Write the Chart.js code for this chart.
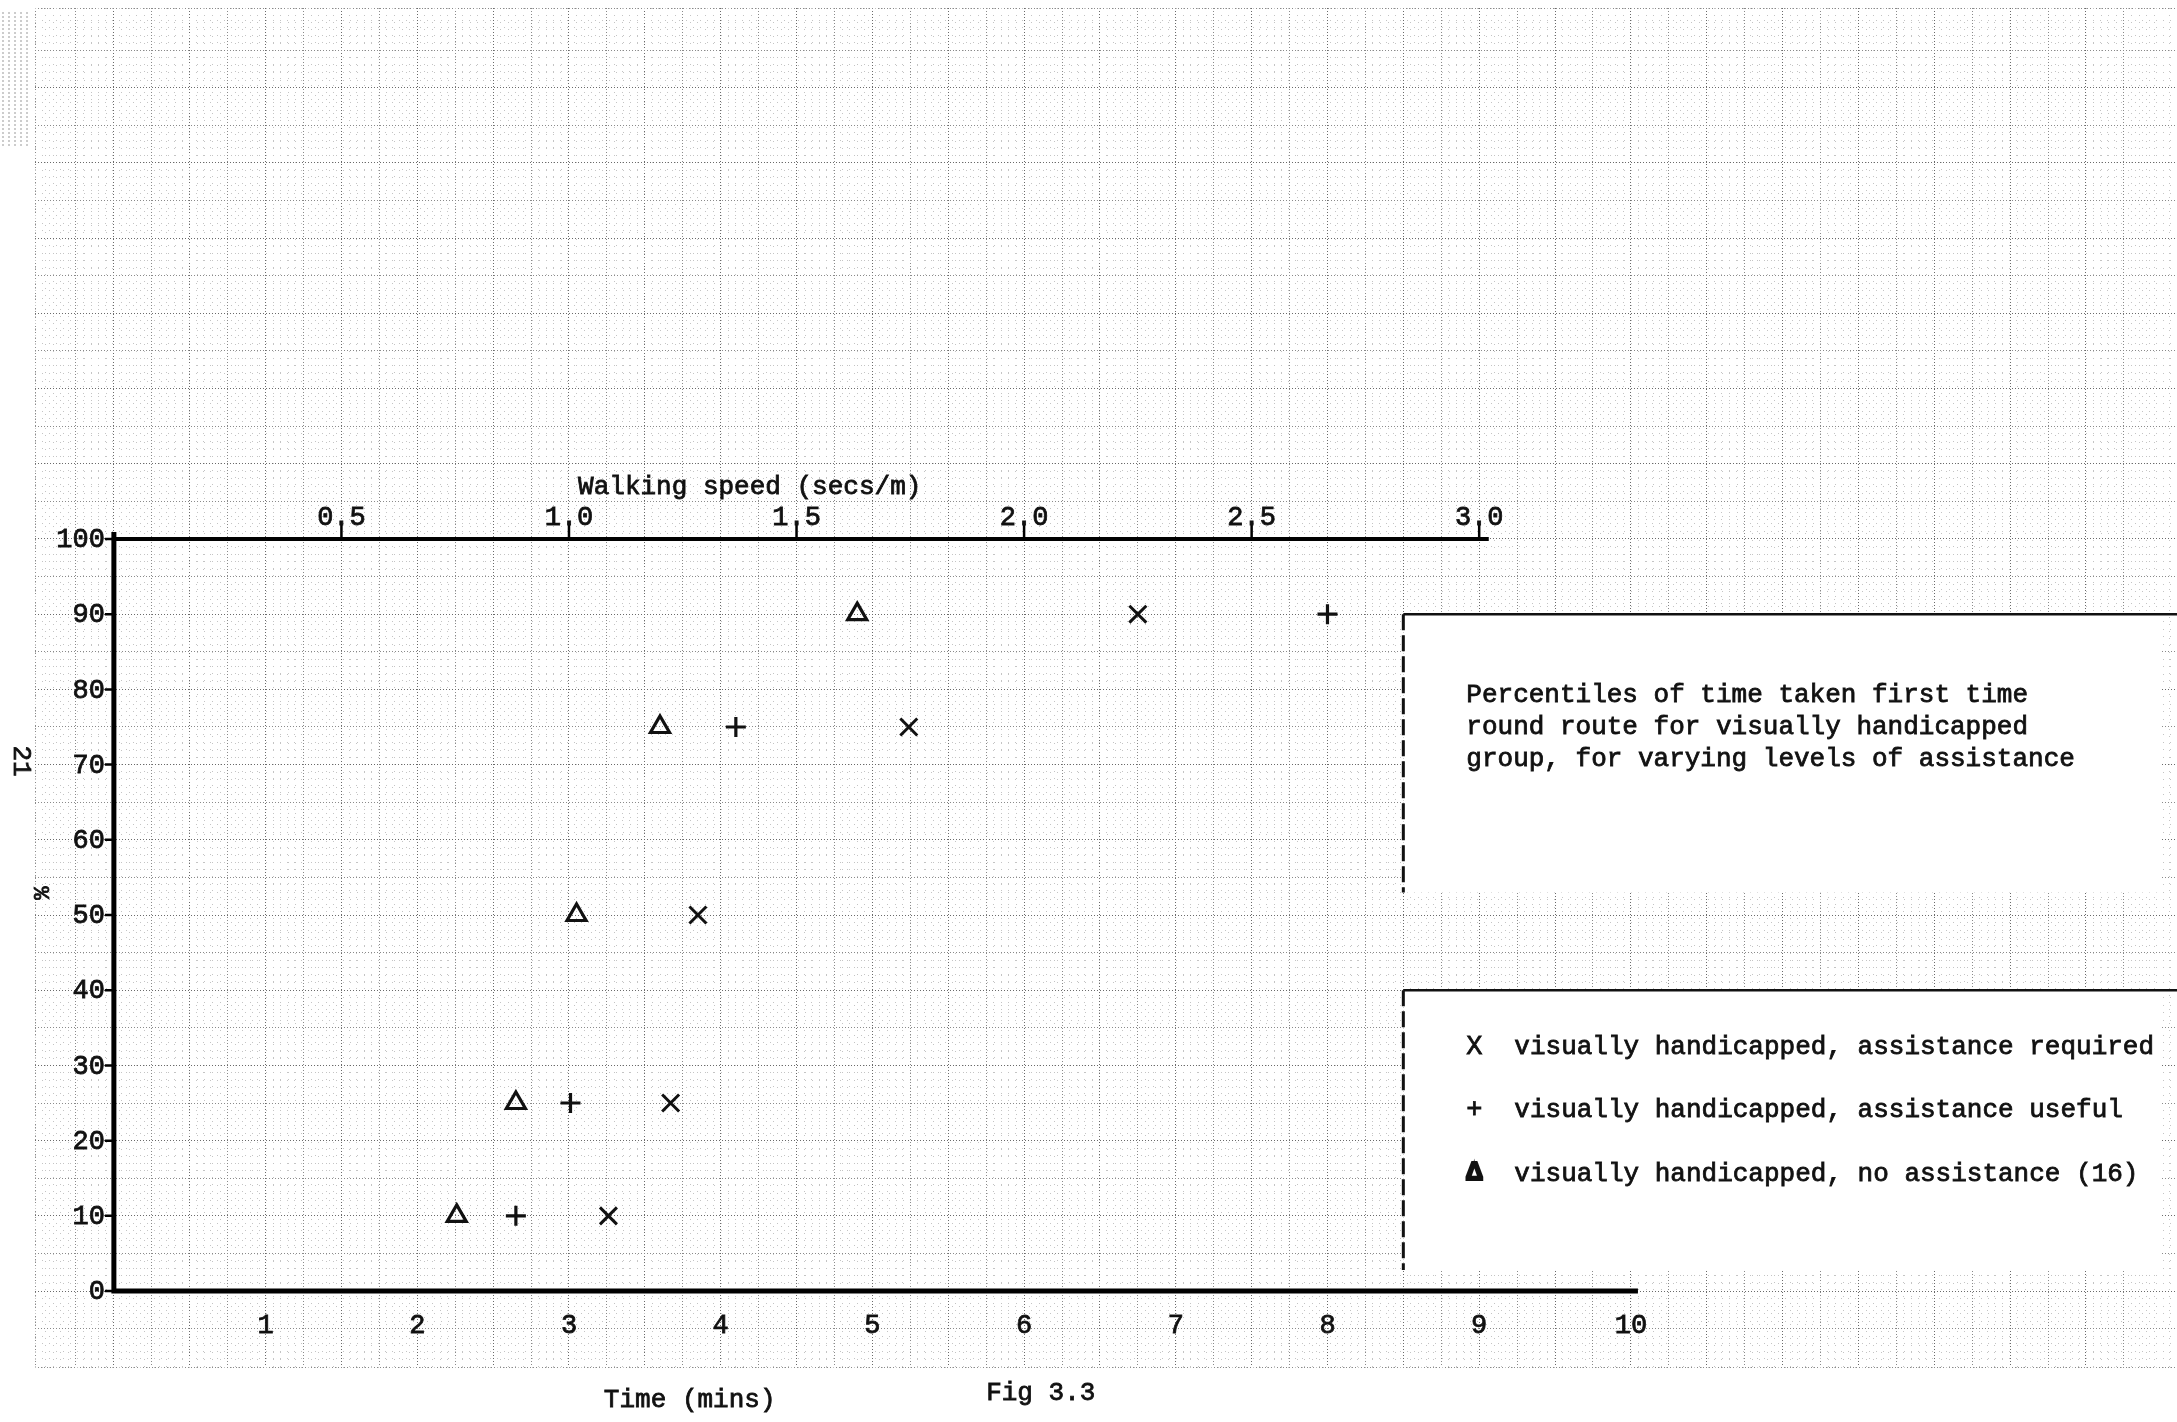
<!DOCTYPE html>
<html>
<head>
<meta charset="utf-8">
<title>Fig 3.3</title>
<script src="https://cdn.jsdelivr.net/npm/chart.js@4.4.1/dist/chart.umd.min.js"></script>
<style>
  html, body { margin: 0; padding: 0; background: #fff; }
  canvas { display: block; }
</style>
</head>
<body>
<canvas id="fig33" width="2177" height="1422"></canvas>
<script>
// percentile levels and time taken (mins)
var percentiles = [10, 25, 50, 75, 90];
var timeNoAssist = [2.26, 2.65, 3.05, 3.60, 4.90];
var timeUseful = [2.65, 3.01, null, 4.10, 8.00];
var timeRequired = [3.26, 3.67, 3.85, 5.24, 6.75];

// axis ticks
var timeTicks = [1, 2, 3, 4, 5, 6, 7, 8, 9, 10];
var percentTicks = [0, 10, 20, 30, 40, 50, 60, 70, 80, 90, 100];
var speedTicks = [0.5, 1.0, 1.5, 2.0, 2.5, 3.0];
var minsPerSpeed = 3; // 1 sec/m round the route = 3 mins

var caption = [
    'Percentiles of time taken first time',
    'round route for visually handicapped',
    'group, for varying levels of assistance'
];
var keySymbols = ['X', '+', '\u0394'];
var keyLabels = [
    'visually handicapped, assistance required',
    'visually handicapped, assistance useful',
    'visually handicapped, no assistance (16)'
];

// extent of the graph paper, in data units
var X_MIN = -0.52, X_MAX = 13.6;
var Y_MIN = -10.1, Y_MAX = 170.6;

var FONT = '"Liberation Mono", "DejaVu Sans Mono", monospace';

function toPoints(times) {
    let pts = [];
    for (let i = 0; i < percentiles.length; i++) {
        if (times[i] !== null) pts.push({x: times[i], y: percentiles[i]});
    }
    return pts;
}

function isMultiple(v, step) {
    const r = v / step;
    return Math.abs(r - Math.round(r)) < 1e-6;
}

// grid colour: darker every 0.5 min / 10 %, lighter every 0.25 min / 5 %
function majorColor(big) {
    return function(c) {
        return isMultiple(c.tick.value, big) ? '#6a6a6a' : '#8a8a8a';
    };
}
function fineColor(coarse) {
    return function(c) {
        return isMultiple(c.tick.value, coarse) ? 'rgba(0,0,0,0)' : '#c4c4c4';
    };
}

// typed text, slightly thickened like a typewriter impression
function typeText(ctx, s, x, y) {
    ctx.fillText(s, x, y);
    ctx.strokeText(s, x, y);
}

// white pasted boxes, axes, labels and caption text
const paperPlugin = {
    id: 'paperSheet',
    beforeDatasetsDraw(chart) {
        const ctx = chart.ctx;
        const sx = chart.scales.x, sy = chart.scales.y;
        const px = v => sx.getPixelForValue(v);
        const py = v => sy.getPixelForValue(v);
        const W = chart.width;
        ctx.save();

        // scan shading along the top-left edge
        ctx.strokeStyle = '#9a9a9a';
        ctx.lineWidth = 1;
        ctx.setLineDash([2, 2]);
        for (let i = 0; i < 5; i++) {
            ctx.beginPath();
            ctx.moveTo(3 + i * 6, 12);
            ctx.lineTo(3 + i * 6, 148);
            ctx.stroke();
        }

        // pasted label boxes
        const boxes = [[90, 53], [40, 2.8]];
        for (const b of boxes) {
            const x0 = px(8.5), x1 = px(13.5);
            const y0 = py(b[0]), y1 = py(b[1]);
            ctx.fillStyle = '#fff';
            ctx.fillRect(x0, y0, x1 - x0, y1 - y0);
            ctx.setLineDash([]);
            ctx.strokeStyle = '#111';
            ctx.lineWidth = 2.5;
            ctx.beginPath();
            ctx.moveTo(x0, y0);
            ctx.lineTo(W, y0);
            ctx.stroke();
            ctx.setLineDash([16, 5]);
            ctx.lineWidth = 3;
            ctx.beginPath();
            ctx.moveTo(x0, y0);
            ctx.lineTo(x0, y1);
            ctx.stroke();
        }
        ctx.setLineDash([]);

        // axes
        ctx.strokeStyle = '#000';
        ctx.lineCap = 'square';
        ctx.lineWidth = 5;
        ctx.beginPath();
        ctx.moveTo(px(0), py(0));
        ctx.lineTo(px(10.03), py(0));
        ctx.moveTo(px(0), py(0));
        ctx.lineTo(px(0), py(100.6));
        ctx.stroke();
        ctx.lineWidth = 4;
        ctx.beginPath();
        ctx.moveTo(px(0), py(100));
        ctx.lineTo(px(9.05), py(100));
        ctx.stroke();

        // tick marks
        ctx.lineCap = 'butt';
        ctx.lineWidth = 2.5;
        ctx.beginPath();
        for (const s of speedTicks) {
            ctx.moveTo(px(s * minsPerSpeed), py(100));
            ctx.lineTo(px(s * minsPerSpeed), py(100) - 14);
        }
        for (const p of percentTicks) {
            ctx.moveTo(px(0) - 9, py(p));
            ctx.lineTo(px(0), py(p));
        }
        ctx.stroke();

        // tick labels
        ctx.fillStyle = '#111';
        ctx.strokeStyle = '#111';
        ctx.lineWidth = 0.8;
        ctx.font = '27px ' + FONT;
        ctx.textBaseline = 'middle';
        ctx.textAlign = 'center';
        for (const t of timeTicks) {
            typeText(ctx, String(t), px(t), py(0) + 35);
        }
        for (const s of speedTicks) {
            typeText(ctx, s.toFixed(1), px(s * minsPerSpeed), py(100) - 21);
        }
        ctx.textAlign = 'right';
        for (const p of percentTicks) {
            typeText(ctx, String(p), px(0) - 9, py(p) + 1);
        }

        // axis titles
        ctx.font = '26px ' + FONT;
        ctx.textAlign = 'left';
        typeText(ctx, 'Walking speed (secs/m)', px(3.06), py(100) - 52);
        typeText(ctx, 'Time (mins)', px(3.23), py(0) + 109);
        typeText(ctx, 'Fig 3.3', px(5.75), py(0) + 102);

        // caption and key
        const tx = px(8.5) + 63;
        for (let i = 0; i < caption.length; i++) {
            typeText(ctx, caption[i], tx, py(79.3) + i * 32);
        }
        for (let i = 0; i < keyLabels.length; i++) {
            const ky = py(32.5) + i * 63.5;
            ctx.font = (i === 2 ? 'bold ' : '') + '27px ' + FONT;
            ctx.lineWidth = i === 2 ? 2 : 0.8;
            typeText(ctx, keySymbols[i], tx, ky);
            ctx.font = '26px ' + FONT;
            ctx.lineWidth = 0.8;
            typeText(ctx, keyLabels[i], tx + 48, ky);
        }

        // page number and % sign, typed sideways
        ctx.save();
        ctx.translate(21, 761);
        ctx.rotate(Math.PI / 2);
        ctx.textAlign = 'center';
        typeText(ctx, '21', 0, 0);
        ctx.restore();
        ctx.save();
        ctx.translate(40, 893);
        ctx.rotate(Math.PI / 2);
        ctx.textAlign = 'center';
        ctx.font = '22px ' + FONT;
        typeText(ctx, '%', 0, 0);
        ctx.restore();

        ctx.restore();
    }
};

const ctx = document.getElementById('fig33').getContext('2d');

const config = {
    type: 'scatter',
    data: {
        datasets: [
            {
                label: keyLabels[0],
                data: toPoints(timeRequired),
                pointStyle: 'crossRot',
                pointRadius: 12,
                pointBorderWidth: 3,
                borderColor: '#111',
                backgroundColor: 'rgba(0,0,0,0)'
            },
            {
                label: keyLabels[1],
                data: toPoints(timeUseful),
                pointStyle: 'cross',
                pointRadius: 10,
                pointBorderWidth: 3.2,
                borderColor: '#111',
                backgroundColor: 'rgba(0,0,0,0)'
            },
            {
                label: keyLabels[2],
                data: toPoints(timeNoAssist),
                pointStyle: 'triangle',
                pointRadius: 11,
                pointBorderWidth: 3.2,
                borderColor: '#111',
                backgroundColor: 'rgba(0,0,0,0)'
            }
        ]
    },
    options: {
        responsive: false,
        animation: false,
        events: [],
        layout: {
            autoPadding: false,
            padding: {left: 35, top: 8, right: 0, bottom: 55}
        },
        plugins: {
            legend: {display: false},
            tooltip: {enabled: false}
        },
        scales: {
            x: {
                type: 'linear', position: 'bottom', min: X_MIN, max: X_MAX,
                ticks: {display: false, stepSize: 0.25},
                grid: {drawTicks: false, lineWidth: 1, color: majorColor(0.5)},
                border: {display: false, dash: [1, 2]}
            },
            xFine: {
                type: 'linear', position: 'bottom', min: X_MIN, max: X_MAX, z: -1,
                ticks: {display: false, stepSize: 0.05},
                grid: {drawTicks: false, lineWidth: 1, color: fineColor(0.25)},
                border: {display: false, dash: [1, 6]}
            },
            y: {
                type: 'linear', position: 'left', min: Y_MIN, max: Y_MAX,
                ticks: {display: false, stepSize: 5},
                grid: {drawTicks: false, lineWidth: 1, color: majorColor(10)},
                border: {display: false, dash: [1, 2]}
            },
            yFine: {
                type: 'linear', position: 'left', min: Y_MIN, max: Y_MAX, z: -1,
                ticks: {display: false, stepSize: 1},
                grid: {drawTicks: false, lineWidth: 1, color: fineColor(5)},
                border: {display: false, dash: [1, 6]}
            }
        }
    },
    plugins: [paperPlugin]
};

new Chart(ctx, config);
</script>
</body>
</html>
